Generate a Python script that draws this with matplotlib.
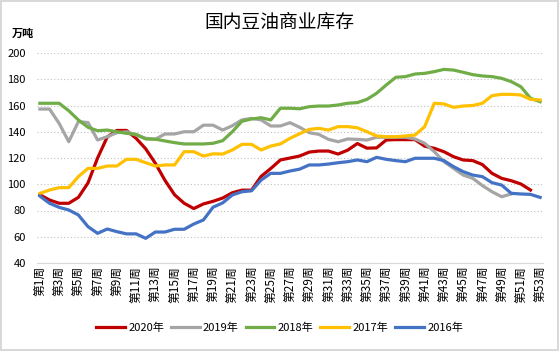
import numpy as np
import matplotlib
matplotlib.use('Agg')
import matplotlib.pyplot as plt

plt.rcParams['font.family'] = ['Noto Sans CJK SC', 'DejaVu Sans']

weeks = np.arange(1, 54)
week_labels = ['第{}周'.format(w) for w in weeks]

# 万吨, one value per week
y2020 = [92, 88, 85.5, 85.5, 90, 101, 120, 136, 141, 141,
         135, 127, 116, 103, 92, 85.5, 81.5, 85, 87, 89.5,
         93.5, 95.5, 95.5, 106, 112, 118.5, 120, 121.5, 124.5, 125.3,
         125.3, 123, 126, 131, 127.5, 127.7, 133.7, 134, 134, 134,
         129, 127.4, 124.8, 121, 118.5, 118, 115, 108.3, 104.5, 102.7,
         100.2, 95.6]
y2019 = [157.3, 157.3, 146.4, 132.4, 147.7, 147, 133.7, 136.2, 139.3, 140,
         137.5, 135, 134.3, 138.3, 138.3, 140, 140, 145, 145, 141.3,
         144.6, 149, 150.2, 149, 144.4, 144.4, 146.9, 143.4, 139.3, 138,
         134.2, 132.4, 134.5, 134.2, 133.7, 135.8, 135.8, 135.8, 135.8, 134.5,
         131.2, 124.8, 117.2, 112.1, 107, 104.5, 99, 94.3, 90.5, 92.6]
y2018 = [161.7, 161.7, 161.7, 156, 149, 143.4, 140.8, 141.3, 140, 138.8,
         138, 134.5, 134.3, 133, 131.7, 130.7, 130.7, 130.7, 131.2, 133.2,
         140, 148, 149.7, 150.7, 149, 157.9, 157.9, 157.5, 159.1, 159.6,
         159.6, 160.4, 161.7, 162.2, 164.7, 169.3, 175.6, 181.5, 182, 184,
         184.5, 185.8, 187.5, 187, 185.3, 183.5, 182.5, 182, 180.7, 178.2,
         174.3, 165.5, 162.9]
y2017 = [93, 95.6, 97.4, 97.4, 105.8, 112.1, 112.1, 113.9, 113.9, 119,
         119, 116.4, 113.9, 114.7, 114.7, 124.8, 124.8, 121.5, 123.2, 123,
         126.1, 130.4, 130.4, 126.1, 129.1, 130.7, 135, 138.5, 141.8, 142.6,
         141.3, 143.9, 143.9, 143, 140, 136.8, 136.2, 136.2, 136.8, 137.5,
         143.9, 161.7, 161.2, 158.6, 159.6, 160, 161.7, 167.5, 168.5, 168.5,
         168, 164.7, 164.2]
y2016 = [91, 85.5, 82.4, 80.4, 76.6, 67.7, 62.6, 65.9, 63.9, 62.2,
         62.2, 58.8, 63.6, 63.6, 65.7, 65.7, 69.7, 72.8, 82.5, 85.8,
         91.8, 94.3, 95, 103.2, 108.3, 108.3, 110.1, 111.5, 114.7, 114.7,
         115.4, 116.4, 117.2, 118.5, 117.2, 120.5, 119, 118, 117.2, 119.8,
         119.8, 119.8, 118, 113.4, 109.6, 107, 105.8, 101.2, 99.4, 93.1,
         92.6, 92.3, 90]

series = [('2020年', y2020, '#C00000'),
          ('2019年', y2019, '#A5A5A5'),
          ('2018年', y2018, '#70AD47'),
          ('2017年', y2017, '#FFC000'),
          ('2016年', y2016, '#4472C4')]

fig = plt.figure(figsize=(5.59, 3.51), dpi=100)
fig.patch.set_edgecolor('#d9d9d9')
fig.patch.set_linewidth(1.5)
ax = fig.add_axes([37/559, (351-263)/351, (543-37)/559, (263-53)/351])

for name, vals, col in series:
    ax.plot(weeks[:len(vals)], vals, color=col, lw=2.3, label=name,
            solid_joinstyle='round')

ax.set_xlim(0.7, 53.3)
ax.set_ylim(40, 200)
ax.set_yticks(range(40, 201, 20))
ax.set_xticks(weeks[::2])
ax.set_xticklabels(week_labels[::2], rotation=90, fontsize=8.5)
ax.tick_params(axis='y', labelsize=8, length=0, pad=8)
ax.tick_params(axis='x', length=0, pad=2)
ax.grid(axis='y', color='#bfbfbf', linestyle=(0, (1, 2)), lw=0.8)
ax.set_axisbelow(True)
for s in ['top', 'right', 'left']:
    ax.spines[s].set_visible(False)
ax.spines['bottom'].set_color('#d9d9d9')

fig.text(0.5, 1 - 22/351, '国内豆油商业库存', ha='center', va='center', fontsize=13.5)
fig.text(12/559, 1 - 33/351, '万吨', ha='left', va='center', fontsize=8,
         fontweight='bold')

fig.legend(loc='center', bbox_to_anchor=(0.5, 1 - 328/351), ncol=5, frameon=False,
           fontsize=8, handlelength=2.6, columnspacing=0.6, handletextpad=0.3)

fig.savefig('out.png', dpi=100)
